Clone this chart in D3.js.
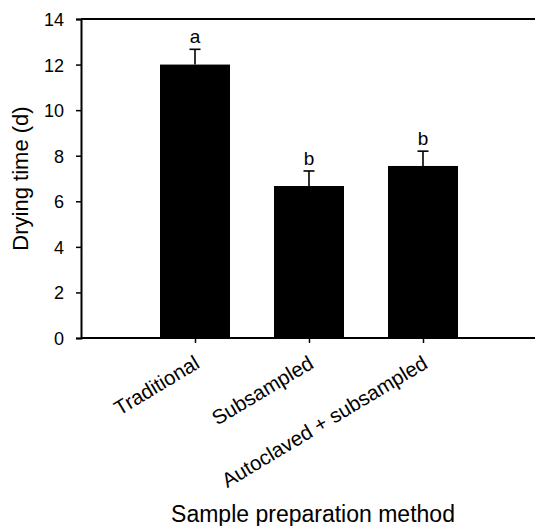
<!DOCTYPE html>
<html>
<head>
<meta charset="utf-8">
<script src="https://cdn.jsdelivr.net/npm/d3@7"></script>
<style>
  body { margin: 0; background: #fff; }
  text { font-family: "Liberation Sans", Arial, sans-serif; fill: #000; }
</style>
</head>
<body>
<div id="chart"></div>
<script>
var methods = ["Traditional", "Subsampled", "Autoclaved + subsampled"];
var dryingTime = [12.0, 6.67, 7.55];
var stdErr = [0.67, 0.66, 0.65];
var groupLetters = ["a", "b", "b"];
var yTicks = [0, 2, 4, 6, 8, 10, 12, 14];

var w = 535, h = 526;
var plotLeft = 81, plotRight = 537, plotTop = 19, plotBottom = 338;

var svg = d3.select("#chart").append("svg")
    .attr("width", w)
    .attr("height", h);

var x = d3.scalePoint()
    .domain(methods)
    .range([plotLeft, plotRight])
    .padding(1);
var y = d3.scaleLinear()
    .domain([0, 14])
    .range([plotBottom, plotTop]);
var barW = 70;

// bars
svg.append("g").selectAll("rect")
    .data(methods)
  .enter().append("rect")
    .attr("x", function(d) { return x(d) - barW / 2; })
    .attr("y", function(d, i) { return y(dryingTime[i]); })
    .attr("width", barW)
    .attr("height", function(d, i) { return y(0) - y(dryingTime[i]); })
    .attr("fill", "#000");

// error bars (upper only)
var err = svg.append("g").attr("stroke", "#000").attr("stroke-width", 1.6);
methods.forEach(function(d, i) {
  var yt = y(dryingTime[i] + stdErr[i]);
  err.append("line")
      .attr("x1", x(d)).attr("x2", x(d))
      .attr("y1", y(dryingTime[i])).attr("y2", yt);
  err.append("line")
      .attr("x1", x(d) - 5.5).attr("x2", x(d) + 5.5)
      .attr("y1", yt).attr("y2", yt);
});

// letters
svg.append("g").selectAll("text")
    .data(methods)
  .enter().append("text")
    .attr("x", function(d) { return x(d); })
    .attr("y", function(d, i) { return y(dryingTime[i] + stdErr[i]) - 6; })
    .attr("text-anchor", "middle")
    .style("font-size", "19px")
    .text(function(d, i) { return groupLetters[i]; });

// y axis
var yAxis = svg.append("g")
    .attr("transform", "translate(" + plotLeft + ",0)")
    .call(d3.axisLeft(y).tickValues(yTicks).tickSize(5).tickPadding(12));
yAxis.selectAll("text").style("font-size", "18px").attr("dy", "0.36em");

// x axis
var xAxis = svg.append("g")
    .attr("transform", "translate(0," + plotBottom + ")")
    .call(d3.axisBottom(x).tickSize(5).tickSizeOuter(0).tickFormat(""));
xAxis.select(".domain").attr("d", "M" + plotLeft + ",0H" + w);

svg.selectAll(".domain").attr("stroke-width", 2);
svg.selectAll(".tick line").attr("stroke-width", 1.5);

// top frame line
svg.append("line")
    .attr("x1", plotLeft).attr("x2", w)
    .attr("y1", plotTop).attr("y2", plotTop)
    .attr("stroke", "#000").attr("stroke-width", 2);

// rotated category labels
svg.append("g").selectAll("text")
    .data(methods)
  .enter().append("text")
    .attr("transform", function(d) { return "translate(" + (x(d) + 6) + "," + (plotBottom + 29) + ") rotate(-31)"; })
    .attr("text-anchor", "end")
    .style("font-size", "20.5px")
    .text(function(d) { return d; });

// axis titles
svg.append("text")
    .attr("transform", "translate(28," + ((plotTop + plotBottom) / 2) + ") rotate(-90)")
    .attr("text-anchor", "middle")
    .style("font-size", "22px")
    .text("Drying time (d)");

svg.append("text")
    .attr("x", 313)
    .attr("y", 522)
    .attr("text-anchor", "middle")
    .style("font-size", "23px")
    .text("Sample preparation method");
</script>
</body>
</html>
